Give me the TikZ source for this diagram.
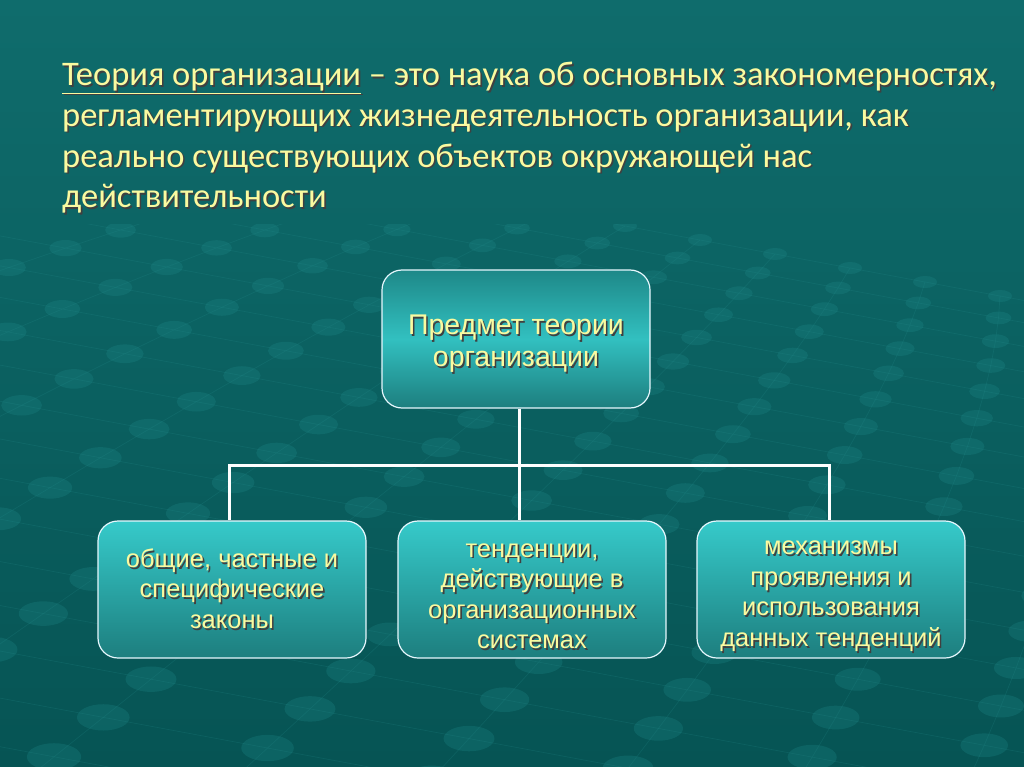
\documentclass[tikz,border=0pt]{standalone}
\usepackage{fontspec}
\setmainfont{Liberation Sans}
\newfontfamily\headfont{Carlito}
\usetikzlibrary{positioning}
\definecolor{bgtop}{HTML}{0F6C6C}
\definecolor{bgbot}{HTML}{065454}
\definecolor{txtyel}{HTML}{FAFAA0}
\definecolor{dotcol}{HTML}{1F8A8A}
\definecolor{gridcol}{HTML}{2A9494}
\definecolor{boxtop}{HTML}{1E8888}
\definecolor{boxmid}{HTML}{32C0C0}
\definecolor{boxhi}{HTML}{36CACA}
\definecolor{boxlo}{HTML}{1D7E7E}
\newcommand\shd[1]{\rlap{\kern1.6pt\raisebox{-1.6pt}{\color{black!75}#1}}#1}
\tikzset{
  slidebox/.style={draw=white!90!cyan, line width=1.2pt, rounded corners=20pt,
    minimum width=268pt, inner sep=0pt, align=center, text=txtyel},
  topbox/.style={slidebox, minimum height=138pt,
    top color=boxtop, bottom color=boxlo, middle color=boxmid,
    font=\fontsize{28.5}{32.5}\selectfont},
  lowbox/.style={slidebox, minimum height=137pt,
    top color=boxhi, bottom color=boxlo,
    font=\fontsize{25.5}{30.5}\selectfont},
  link/.style={draw=white, line width=3pt},
}
\begin{document}
\begin{tikzpicture}[x=1pt,y=-1pt]
  % background
  \fill[top color=bgtop, bottom color=bgbot] (0,0) rectangle (1024,767);
  \begin{scope}
    \clip (0,225) rectangle (1024,767);
    \foreach \j in {0,...,20}{
      \foreach \i in {-10,...,14}{
        \pgfmathsetmacro\s{1+0.07*\j}
        \pgfmathsetmacro\px{700-1.25*(18*\j+0.63*\j*(\j-1))+\i*75*\s}
        \pgfmathsetmacro\py{240+18*\j+0.63*\j*(\j-1)+\i*14*\s}
        \draw[gridcol, opacity=.18, line width=.7pt]
          (\px,\py) -- ++(75*\s,14*\s)
          (\px,\py) -- ++(-22.5*\s+\i*5.25,18*\s+\i*0.98);
        \fill[dotcol, opacity=.28] (\px,\py) ellipse ({12*\s} and {6*\s});
      }
    }
  \end{scope}
  % title
  \node[anchor=north west, align=left, text=txtyel, inner sep=0pt,
    font=\headfont\fontsize{34.5}{40.7}\selectfont] (head) at (62,62)
    {\shd{\underline{Теория организации} – это наука об основных закономерностях,}\\
     \shd{регламентирующих жизнедеятельность организации, как}\\
     \shd{реально существующих объектов окружающей нас}\\
     \shd{действительности}};
  % boxes
  \node[topbox] (subj) at (516,339)
    {\rule{0pt}{31pt}\shd{Предмет теории}\\\shd{организации}};
  \node[lowbox] (laws) at (232,589.5)
    {\shd{общие, частные и}\\\shd{специфические}\\\shd{законы}};
  \node[lowbox] (trends) at (532,589.5)
    {\rule{0pt}{29pt}\shd{тенденции,}\\\shd{действующие в}\\\shd{организационных}\\\shd{системах}};
  \node[lowbox] (mechs) at (831,589.5)
    {\rule{0pt}{29pt}\shd{механизмы}\\\shd{проявления и}\\\shd{использования}\\\shd{данных тенденций}};
  % connectors
  \coordinate (busL) at (229,465);
  \coordinate (busR) at (829,465);
  \draw[link] ([xshift=3pt]subj.south) -- ([xshift=3pt]subj.south |- trends.north);
  \draw[link] (busL |- laws.north) -- (busL) -- (busR) -- (busR |- mechs.north);
\end{tikzpicture}
\end{document}
